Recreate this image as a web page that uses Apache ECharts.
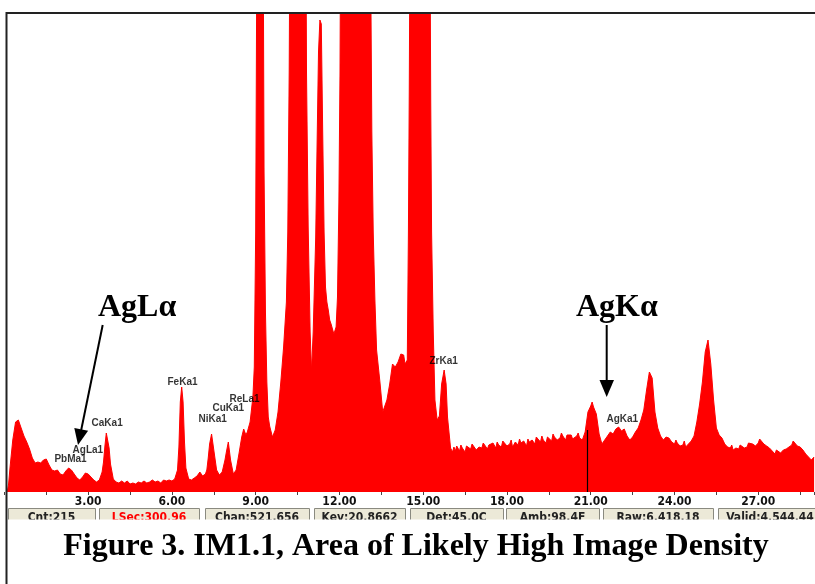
<!DOCTYPE html>
<html>
<head>
<meta charset="utf-8">
<script src="https://cdn.jsdelivr.net/npm/echarts@6/dist/echarts.min.js"></script>
<style>
html,body{margin:0;padding:0;background:#fff;}
#chart{width:815px;height:584px;}
</style>
</head>
<body>
<div id="chart"></div>
<script>
// ---- DATA (energy keV, counts) ----
const spectrumLow = [
 [0.1,0],[0.15,8],[0.2,24],[0.3,52],[0.4,70],[0.5,72],[0.6,64],[0.7,56],[0.8,50],[0.9,43],
 [1.0,34],[1.1,29],[1.2,30],[1.3,29],[1.4,32],[1.5,33],[1.6,27],[1.7,22],[1.8,21],[1.9,22],
 [2.0,18],[2.1,17],[2.2,21],[2.3,24],[2.4,22],[2.5,18],[2.6,14],[2.7,12],[2.8,15],[2.9,19],
 [3.0,18],[3.1,15],[3.2,12],[3.3,10],[3.4,12],[3.5,20],[3.55,30],[3.6,46],[3.65,59],[3.7,57],
 [3.75,44],[3.8,28],[3.9,13],[4.0,10],[4.1,9],[4.2,11],[4.3,9],[4.4,11],[4.5,8],[4.6,9],
 [4.7,8],[4.8,10],[4.9,9],[5.0,11],[5.1,9],[5.2,10],[5.3,12],[5.4,10],[5.5,11],[5.6,9],
 [5.7,12],[5.8,11],[5.9,12]
];
const spectrumMid = [
 [6.0,11],[6.1,13],[6.2,22],[6.25,45],[6.3,90],[6.35,105],[6.4,90],[6.45,50],[6.5,24],[6.6,13],
 [6.7,12],[6.8,14],[6.9,16],[7.0,20],[7.1,16],[7.2,18],[7.25,22],[7.3,34],[7.35,48],[7.42,58],
 [7.5,42],[7.6,22],[7.7,17],[7.8,20],[7.9,32],[7.95,40],[8.02,50],[8.1,32],[8.2,18],[8.3,22],
 [8.4,38],[8.5,55],[8.57,63],[8.65,57],[8.7,60],[8.8,70],[8.9,95],[8.95,125],[9.0,260],[9.05,600],
 [9.15,1200],[9.25,700],[9.3,320],[9.35,180],[9.4,110],[9.45,75],[9.5,66],[9.6,55],[9.7,62],[9.8,80],
 [9.9,110],[10.0,145],[10.1,190],[10.15,260],[10.2,420],[10.25,700],[10.4,1500],[10.6,1600],[10.75,900],[10.82,420],
 [10.88,265],[10.95,160],[11.0,121],[11.06,160],[11.15,255],[11.2,350],[11.25,440],[11.3,472],[11.35,468],[11.4,360],
 [11.45,260],[11.5,205],[11.55,190],[11.6,182],[11.65,172],[11.7,168],[11.8,158],[11.88,165],[11.93,195],[11.98,290],
 [12.02,420],[12.06,700],[12.3,2000],[12.7,2500],[13.0,1200],[13.1,600],[13.16,360],[13.21,260],[13.27,192],[13.33,142],
 [13.45,110],[13.55,80],[13.6,78],[13.7,92],[13.8,108],[13.9,128],[14.0,125],[14.1,130],[14.2,138],[14.3,137],
 [14.35,128],[14.43,132],[14.47,260],[14.5,400],[14.55,700],[14.8,2000],[15.1,1500],[15.22,700],[15.27,390],[15.3,260],
 [15.36,160],[15.42,92],[15.5,72],[15.58,76],[15.66,108],[15.75,122],[15.82,108],[15.87,75],[15.93,58],[15.98,44]
];
const spectrumHigh = [
 [16.05,40],[16.1,45],[16.15,41],[16.2,46],[16.3,41],[16.35,47],[16.4,44],[16.5,40],[16.55,46],[16.6,45],[16.7,43],[16.75,48],[16.8,47],[16.9,42],[17.0,45],
 [17.1,44],[17.15,49],[17.2,48],[17.3,43],[17.35,47],[17.4,46],[17.5,49],[17.6,44],[17.65,50],[17.7,47],[17.8,45],[17.85,51],[17.9,49],[18.0,46],
 [18.1,48],[18.15,52],[18.2,45],[18.3,50],[18.4,47],[18.45,53],[18.5,49],[18.6,51],[18.7,46],[18.75,53],[18.8,50],[18.9,52],[19.0,48],[19.05,55],
 [19.1,53],[19.2,50],[19.25,56],[19.3,52],[19.4,49],[19.45,55],[19.5,54],[19.6,51],[19.65,58],[19.7,55],[19.8,52],[19.9,54],[19.95,59],[20.0,56],
 [20.1,52],[20.15,57],[20.2,55],[20.3,57],[20.35,53],[20.4,53],[20.5,56],[20.55,59],[20.6,54],[20.7,52],[20.8,60],[20.9,80],[21.0,86],
 [21.05,90],[21.1,85],[21.2,78],[21.3,58],[21.4,48],[21.5,52],[21.6,56],[21.7,60],[21.8,58],[21.9,63],
 [22.0,65],[22.1,61],[22.2,63],[22.3,56],[22.4,52],[22.5,55],[22.6,60],[22.7,64],[22.8,72],[22.9,82],
 [23.0,102],[23.1,120],[23.15,122],[23.2,114],[23.3,80],[23.4,64],[23.5,56],[23.6,52],[23.7,55],[23.8,54],
 [23.9,50],[24.0,48],[24.05,52],[24.1,49],[24.2,46],[24.3,47],[24.35,51],[24.4,45],[24.5,48],[24.6,51],[24.7,56],[24.8,70],
 [24.9,88],[25.0,110],[25.1,140],[25.2,152],[25.3,128],[25.4,92],[25.5,64],[25.6,57],[25.7,54],[25.8,48],
 [25.9,45],[26.0,44],[26.05,47],[26.1,42],[26.2,44],[26.3,43],[26.35,47],[26.4,46],[26.5,44],[26.6,45],[26.65,49],[26.7,47],[26.8,48],
 [26.9,46],[27.0,49],[27.05,53],[27.1,51],[27.2,48],[27.3,46],[27.4,44],[27.5,41],[27.6,38],[27.65,42],[27.7,40],[27.8,39],
 [27.9,42],[28.0,43],[28.1,45],[28.2,47],[28.25,51],[28.3,49],[28.4,46],[28.5,45],[28.6,42],[28.7,38],[28.8,35],
 [28.9,32],[29.0,35]
];
const peakLabels = [
 ['PbMa1',1.81,32],['AgLa1',2.46,41],['CaKa1',3.14,68],['FeKa1',5.86,109],['NiKa1',6.97,72],
 ['CuKa1',7.47,83],['ReLa1',8.08,92],['ZrKa1',15.24,130],['AgKa1',21.58,72]
];
const cursorKeV = 20.8662;
const cursorCounts = 62;
const statusTexts = ['Cnt:215','LSec:300.96','Chan:521.656','Kev:20.8662','Det:45.0C','Amb:98.4F','Raw:6,418.18','Valid:4,544.44'];
const titleText = 'Figure 3. IM1.1, Area of Likely High Image Density';
const bigLabels = ['AgL\u03b1','AgK\u03b1'];

// ---- LAYOUT ----
const spectrum = spectrumLow.concat(spectrumMid, spectrumHigh);
const cellX = [[8,95],[99,199],[205,309],[314,405],[410,503],[506,599],[603,713],[718,822]];
const narrow = "'Liberation Sans Narrow','DejaVu Sans Condensed',sans-serif";

const graphics = [];
// frame
graphics.push({type:'line',shape:{x1:6,y1:13,x2:815,y2:13},style:{stroke:'#222',lineWidth:2},z:100});
graphics.push({type:'line',shape:{x1:6.5,y1:12,x2:6.5,y2:584},style:{stroke:'#222',lineWidth:2},z:100});
// status bar
cellX.forEach((c,i)=>{
  graphics.push({type:'rect',shape:{x:c[0]+0.5,y:508.5,width:c[1]-c[0],height:14},
    style:{fill:'#ece9d8',stroke:'#8a8a80',lineWidth:1},z:50});
  graphics.push({type:'text',style:{text:statusTexts[i],x:(c[0]+c[1])/2,y:512,
    font:'bold 12px '+narrow,fill:i===1?'#ff0000':'#222',align:'center',verticalAlign:'top',
    textAlign:'center',textVerticalAlign:'top'},z:51});
});
graphics.push({type:'rect',shape:{x:8,y:519.5,width:815,height:14},style:{fill:'#fff'},z:60});
// big labels
graphics.push({type:'text',style:{text:bigLabels[0],x:98,y:308,font:'bold 32px "Liberation Serif",serif',fill:'#000',
  align:'left',verticalAlign:'middle',textAlign:'left',textVerticalAlign:'middle'},z:70});
graphics.push({type:'text',style:{text:bigLabels[1],x:576,y:308,font:'bold 32px "Liberation Serif",serif',fill:'#000',
  align:'left',verticalAlign:'middle',textAlign:'left',textVerticalAlign:'middle'},z:70});
// arrows
graphics.push({type:'line',shape:{x1:102.7,y1:325,x2:81.2,y2:430},style:{stroke:'#000',lineWidth:2},z:70});
graphics.push({type:'polygon',shape:{points:[[88.1,430.7],[74.3,427.9],[78,445]]},style:{fill:'#000'},z:70});
graphics.push({type:'line',shape:{x1:606.7,y1:325,x2:606.7,y2:382},style:{stroke:'#000',lineWidth:2},z:70});
graphics.push({type:'polygon',shape:{points:[[599.5,380],[614,380],[606.7,397]]},style:{fill:'#000'},z:70});
// title
graphics.push({type:'text',style:{text:titleText,x:416,y:547,font:'bold 32px "Liberation Serif",serif',fill:'#000',
  align:'center',verticalAlign:'middle',textAlign:'center',textVerticalAlign:'middle'},z:70});

const chart = echarts.init(document.getElementById('chart'), null, {renderer:'canvas'});
chart.setOption({
  animation:false,
  backgroundColor:'#fff',
  grid:{left:4.4,right:0.9,top:13,bottom:92,containLabel:false},
  xAxis:{
    type:'value',min:0,max:29,interval:3,
    axisLine:{show:false},
    axisTick:{show:true,length:3,lineStyle:{color:'#444',width:1}},
    minorTick:{show:true,splitNumber:2,length:3,lineStyle:{color:'#444',width:1}},
    splitLine:{show:false},
    axisLabel:{show:true,margin:4,showMinLabel:false,showMaxLabel:false,
      fontFamily:narrow,fontWeight:'bold',fontSize:12,color:'#111',
      formatter:v=>v.toFixed(2)}
  },
  yAxis:{type:'value',min:0,max:479,show:false},
  series:[
    {
      type:'line',data:spectrum,showSymbol:false,symbol:'none',smooth:false,
      lineStyle:{color:'#ff0000',width:1},
      areaStyle:{color:'#ff0000',opacity:1},
      itemStyle:{color:'#ff0000'},
      z:2,
      markLine:{silent:true,symbol:['none','none'],label:{show:false},
        lineStyle:{color:'#000',width:1.2,type:'solid'},
        data:[[{coord:[cursorKeV,0]},{coord:[cursorKeV,cursorCounts]}]]}
    },
    {
      type:'scatter',z:5,symbolSize:1,itemStyle:{color:'rgba(0,0,0,0)'},
      data:peakLabels.map(p=>({value:[p[1],p[2]],name:p[0]})),
      label:{show:true,position:[0,0],align:'left',verticalAlign:'middle',
        formatter:p=>p.name,fontFamily:"'Liberation Sans',Arial,sans-serif",fontWeight:'bold',fontSize:10,color:'#000'}
    }
  ],
  graphic:{elements:graphics}
});
</script>
</body>
</html>
